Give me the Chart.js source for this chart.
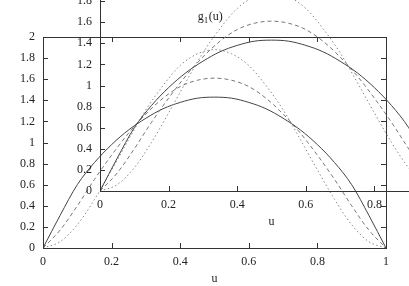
<!DOCTYPE html>
<html>
<head>
<meta charset="utf-8">
<script src="https://cdn.jsdelivr.net/npm/chart.js@4.4.1/dist/chart.umd.min.js"></script>
<style>
  html, body { margin: 0; padding: 0; background: #fff; overflow: hidden; width: 409px; height: 286px; }
  canvas { position: absolute; }
  #main-chart { left: 0; top: 0; }
  #inset-chart { left: 57px; top: -57px; }
</style>
</head>
<body>
<canvas id="main-chart" width="409" height="286"></canvas>
<canvas id="inset-chart" width="409" height="286"></canvas>
<script>
// Data
const uValues = [0, 0.05, 0.1, 0.15, 0.2, 0.25, 0.3, 0.35, 0.4, 0.45, 0.5, 0.55, 0.6, 0.65, 0.7, 0.75, 0.8, 0.85, 0.9, 0.95, 1];
const gSolid  = [0, 0.31, 0.60, 0.81, 0.98, 1.12, 1.23, 1.32, 1.38, 1.42, 1.43, 1.42, 1.38, 1.32, 1.23, 1.12, 0.98, 0.81, 0.60, 0.31, 0];
const gDashed = [0, 0.17, 0.40, 0.65, 0.88, 1.09, 1.27, 1.42, 1.53, 1.59, 1.61, 1.59, 1.53, 1.42, 1.27, 1.09, 0.88, 0.65, 0.40, 0.17, 0];
const gDotted = [0, 0.06, 0.22, 0.46, 0.74, 1.03, 1.31, 1.54, 1.73, 1.84, 1.88, 1.84, 1.73, 1.54, 1.31, 1.03, 0.74, 0.46, 0.22, 0.06, 0];

const xTicks = [0, 0.2, 0.4, 0.6, 0.8, 1];
const yTicks = [0, 0.2, 0.4, 0.6, 0.8, 1, 1.2, 1.4, 1.6, 1.8, 2];
const xTitle = 'u';
const yTitle = ['g', '1', '(u)'];

const FONT = "'Liberation Serif', serif";
const toPoints = (ys) => uValues.map((u, i) => ({ x: u, y: ys[i] }));
const fmt = (v) => String(Math.round(v * 10) / 10);

// gnuplot-like frame with inward ticks on all four sides
const framePlugin = {
    id: 'frame',
    afterDraw(chart, args, opts) {
        const { ctx, chartArea: a, scales: { x, y } } = chart;
        ctx.save();
        ctx.strokeStyle = '#333';
        ctx.lineWidth = 1;
        ctx.strokeRect(a.left + 0.5, a.top + 0.5, a.right - a.left, a.bottom - a.top);
        ctx.beginPath();
        xTicks.forEach(v => {
            const px = Math.round(x.getPixelForValue(v)) + 0.5;
            ctx.moveTo(px, a.bottom); ctx.lineTo(px, a.bottom - 5);
            ctx.moveTo(px, a.top); ctx.lineTo(px, a.top + 5);
        });
        yTicks.forEach(v => {
            const py = Math.round(y.getPixelForValue(v)) + 0.5;
            ctx.moveTo(a.left, py); ctx.lineTo(a.left + 5, py);
            ctx.moveTo(a.right, py); ctx.lineTo(a.right - 5, py);
        });
        ctx.stroke();

        if (opts.showYTitle) {
            // y label sits inside the plot, near the top
            const tx = x.getPixelForValue(0.285);
            const ty = y.getPixelForValue(1.62);
            ctx.fillStyle = '#222';
            ctx.textBaseline = 'alphabetic';
            ctx.font = '12px ' + FONT;
            ctx.fillText(yTitle[0], tx, ty);
            const w0 = ctx.measureText(yTitle[0]).width;
            ctx.font = '9px ' + FONT;
            ctx.fillText(yTitle[1], tx + w0, ty + 3);
            const w1 = ctx.measureText(yTitle[1]).width;
            ctx.font = '12px ' + FONT;
            ctx.fillText(yTitle[2], tx + w0 + w1 + 0.5, ty);
        }
        ctx.restore();
    }
};

function makeChart(canvasId, showYTitle) {
    const ctx = document.getElementById(canvasId).getContext('2d');
    return new Chart(ctx, {
        type: 'line',
        data: {
            datasets: [
                { data: toPoints(gSolid), borderColor: '#444', borderWidth: 1 },
                { data: toPoints(gDashed), borderColor: '#777', borderWidth: 1, borderDash: [4, 3] },
                { data: toPoints(gDotted), borderColor: '#888', borderWidth: 1, borderDash: [1.5, 2.5] }
            ]
        },
        options: {
            responsive: false,
            animation: false,
            devicePixelRatio: 1,
            layout: { padding: { top: 37, right: 23, left: 0, bottom: 0 } },
            elements: {
                point: { radius: 0 },
                line: { cubicInterpolationMode: 'monotone', fill: false }
            },
            plugins: {
                legend: { display: false },
                tooltip: { enabled: false },
                frame: { showYTitle }
            },
            scales: {
                x: {
                    type: 'linear', min: 0, max: 1,
                    afterFit: s => { s.height = 38; },
                    afterBuildTicks: s => { s.ticks = xTicks.map(v => ({ value: v })); },
                    grid: { display: false, drawTicks: false },
                    border: { display: false },
                    ticks: { padding: 7, color: '#222', font: { family: FONT, size: 12 }, callback: fmt, maxRotation: 0 },
                    title: { display: true, text: xTitle, color: '#222', font: { family: FONT, size: 12 }, padding: { top: 0, bottom: 0 } }
                },
                y: {
                    type: 'linear', min: 0, max: 2,
                    afterFit: s => { s.width = 43; },
                    afterBuildTicks: s => { s.ticks = yTicks.map(v => ({ value: v })); },
                    grid: { display: false, drawTicks: false },
                    border: { display: false },
                    ticks: { padding: 8, color: '#222', font: { family: FONT, size: 12 }, callback: fmt }
                }
            }
        },
        plugins: [framePlugin]
    });
}

makeChart('main-chart', false);
makeChart('inset-chart', true);
</script>
</body>
</html>
